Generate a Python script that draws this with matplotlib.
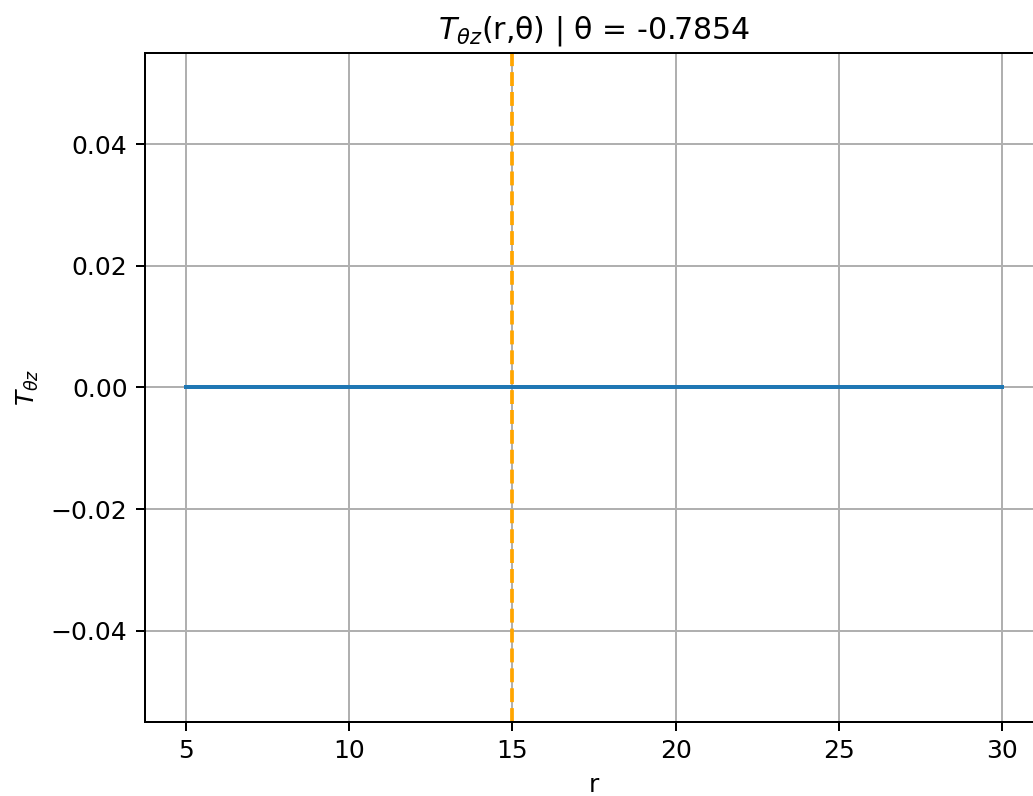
import matplotlib
matplotlib.use("Agg")
import matplotlib.pyplot as plt

# data
r_values = [5.0, 10.0, 15.0, 20.0, 25.0, 30.0]
T_theta_z = [0.0, 0.0, 0.0, 0.0, 0.0, 0.0]
theta = -0.7854
r_mark = 15.0


def show_plot():
    fig = plt.figure(figsize=(1033 / 180, 796 / 180), dpi=180)
    # right spine falls just outside the picture, as in the reference
    ax = fig.add_axes([0.1404, 0.0930, 0.8693, 0.8404])

    ax.plot(r_values, T_theta_z, color="tab:blue", linewidth=1.6)
    ax.axvline(r_mark, color="orange", linestyle="--", linewidth=1.5)

    ax.set_title(r"$T_{\theta z}$(r,θ) | θ = " + f"{theta:.4f}")
    ax.set_xlabel("r")
    ax.set_ylabel(r"$T_{\theta z}$")
    ax.grid(True)

    fig.savefig("out.png", dpi=180)


if __name__ == "__main__":
    show_plot()
